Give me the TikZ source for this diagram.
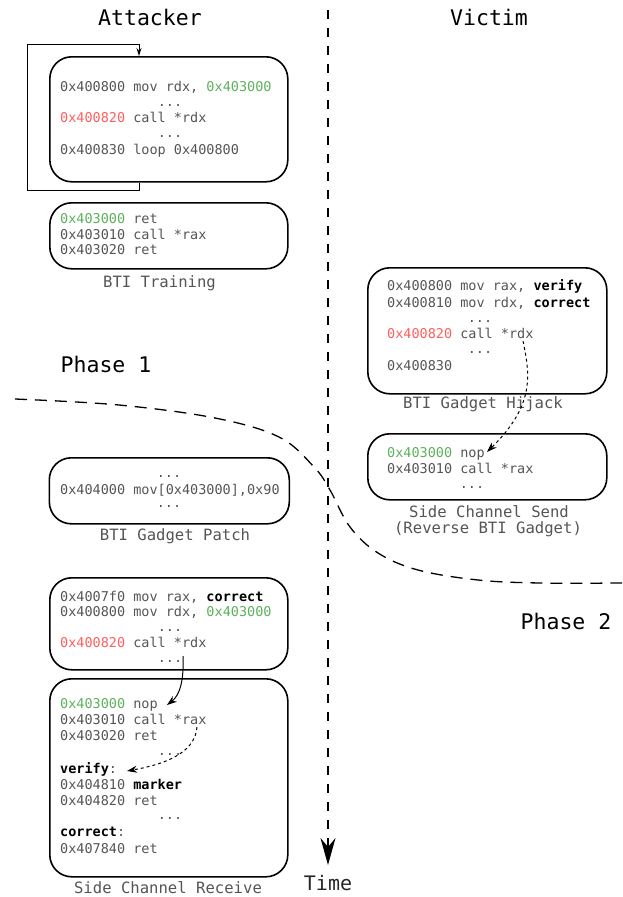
\documentclass[tikz,border=0pt]{standalone}
\usepackage{fontspec}
\usetikzlibrary{arrows.meta}
\newfontfamily\dmono{DejaVu Sans Mono}
\definecolor{cgray}{HTML}{555555}
\definecolor{cgreen}{HTML}{5DB05D}
\definecolor{cred}{HTML}{FF5E5E}
\newcommand{\codefont}{\dmono\fontsize{13.5}{16}\selectfont}
\newcommand{\labfont}{\dmono\fontsize{15.6}{17}\selectfont}
\newcommand{\headfont}{\dmono\fontsize{21.5}{24}\selectfont}
\newcommand{\gr}[1]{\textcolor{cgreen}{#1}}
\newcommand{\rd}[1]{\textcolor{cred}{#1}}
\newcommand{\bd}[1]{\textcolor{black}{\bfseries #1}}
\tikzset{
  code/.style={anchor=base west, inner sep=0pt, font=\codefont, text=cgray},
  dots/.style={anchor=base, inner sep=0pt, font=\codefont, text=cgray},
  lab/.style={anchor=base, inner sep=0pt, font=\labfont, text=cgray},
  head/.style={anchor=base, inner sep=0pt, font=\headfont, text=black},
  box/.style={draw, line width=1.6pt, rounded corners=22pt, inner sep=0pt, anchor=north west},
  tip/.style={-{Stealth[length=10pt,width=7pt]}},
}
\begin{document}
\begin{tikzpicture}[x=1pt,y=-1pt]
\useasboundingbox (0,0) rectangle (622,897);

% headings
\node[head] (att) at (150,25) {Attacker};
\node[head] (vic) at (489,25) {Victim};
\node[head] (ph1) at (106,372) {Phase 1};
\node[head] (ph2) at (566,629) {Phase 2};

% phase separator
\draw[line width=1.3pt, dash pattern=on 12pt off 8pt] plot[smooth, tension=0.6] coordinates
  {(15,399) (119,405) (215,418) (279,437) (314,467) (330,490) (350,527) (378,553) (418,570) (478,580) (540,583) (622,583)};

% time axis
\coordinate (ttop) at (328,10);
\node[head, font=\dmono\fontsize{20}{22}\selectfont, text=black!85] (time) at (328,890) {Time};
\coordinate (tbot) at (328,865);
\draw[line width=1.3pt, dash pattern=on 9pt off 9pt] (ttop) -- (328,840);
\draw[line width=1.3pt, -{Stealth[length=27pt,width=15pt,inset=9pt]}] (328,838) -- (tbot);

% ---------- BTI Training ----------
\node[box, minimum width=238pt, minimum height=125pt] (b1) at (49,56) {};
\node[code] (a1) at (60,91) {0x400800 mov rdx, \gr{0x403000}};
\node[dots] (a2) at (170,106) {...};
\node[code] (a3) at (60,122) {\rd{0x400820} call *rdx};
\node[dots] (a4) at (170,137) {...};
\node[code] (a5) at (60,154) {0x400830 loop 0x400800};
\draw[line width=1pt, -{Stealth[length=8pt,width=5pt]}]
  ([xshift=90pt]b1.south west) -- ++(0,8) -| (27,44) -| ([xshift=90pt]b1.north west);

\node[box, minimum width=238pt, minimum height=66pt] (b2) at (49,202) {};
\node[code] (t1) at (60,223) {\gr{0x403000} ret};
\node[code] (t2) at (60,239) {0x403010 call *rax};
\node[code] (t3) at (60,254) {0x403020 ret};
\node[lab] (l1) at (159.5,287) {BTI Training};

% ---------- BTI Gadget Patch ----------
\node[box, minimum width=240pt, minimum height=66pt] (b3) at (48.5,457) {};
\node[dots] (p1) at (169,477) {...};
\node[code] (p2) at (60,494) {0x404000 mov[0x403000],0x90};
\node[dots] (p3) at (169,507) {...};
\node[lab] (l3) at (175,540) {BTI Gadget Patch};

% ---------- Side Channel Receive ----------
\node[box, minimum width=238pt, minimum height=92pt] (b4) at (49,577) {};
\node[code] (r1) at (60,601) {0x4007f0 mov rax, \bd{correct}};
\node[code] (r2) at (60,616) {0x400800 mov rdx, \gr{0x403000}};
\node[dots] (r3) at (170,631) {...};
\node[code] (r4) at (60,647) {\rd{0x400820} call *rdx};
\node[dots] (r5) at (170,662) {...};

\node[box, minimum width=238pt, minimum height=198pt] (b5) at (49,678) {};
\node[code] (s1) at (60,708) {\gr{0x403000} nop};
\node[code] (s2) at (60,724) {0x403010 call *rax};
\node[code] (s3) at (60,740) {0x403020 ret};
\node[dots] (s4) at (170,755) {...};
\node[code] (s5) at (60,773) {\bd{verify}:};
\node[code] (s6) at (60,789) {0x404810 \bd{marker}};
\node[code] (s7) at (60,805) {0x404820 ret};
\node[dots] (s8) at (170,819) {...};
\node[code] (s9) at (60,836) {\bd{correct}:};
\node[code] (s10) at (60,853) {0x407840 ret};
\node[lab] (l4) at (168,893) {Side Channel Receive};

\coordinate (ra) at (183,656);
\coordinate (rb) at (167,705);
\draw[line width=1pt, tip] (ra) .. controls (184,680) and (180,695) .. (rb);
\coordinate (sa) at (197,727);
\coordinate (sb) at (127,771);
\draw[line width=1pt, dashed, tip] (sa) .. controls (195,755) and (160,765) .. (sb);

% ---------- BTI Gadget Hijack ----------
\node[box, minimum width=239pt, minimum height=126pt] (b6) at (367,267) {};
\node[code] (h1) at (387,290) {0x400800 mov rax, \bd{verify}};
\node[code] (h2) at (387,307) {0x400810 mov rdx, \bd{correct}};
\node[dots] (h3) at (480,322) {...};
\node[code] (h4) at (387,338) {\rd{0x400820} call *rdx};
\node[dots] (h5) at (480,353) {...};
\node[code] (h6) at (387,370) {0x400830};
\node[lab] (l6) at (483,408) {BTI Gadget Hijack};

% ---------- Side Channel Send ----------
\node[box, minimum width=239pt, minimum height=66pt] (b7) at (367,433) {};
\node[code] (v1) at (387,457) {\gr{0x403000} nop};
\node[code] (v2) at (387,473) {0x403010 call *rax};
\node[dots] (v3) at (472,488) {...};
\node[lab] (l7a) at (489,517) {Side Channel Send};
\node[lab] (l7b) at (488,533) {(Reverse BTI Gadget)};

\coordinate (ha) at (523,341);
\coordinate (hb) at (487,452);
\draw[line width=1pt, dashed, tip] (ha) .. controls (530,375) and (535,405) .. (hb);
\end{tikzpicture}
\end{document}
